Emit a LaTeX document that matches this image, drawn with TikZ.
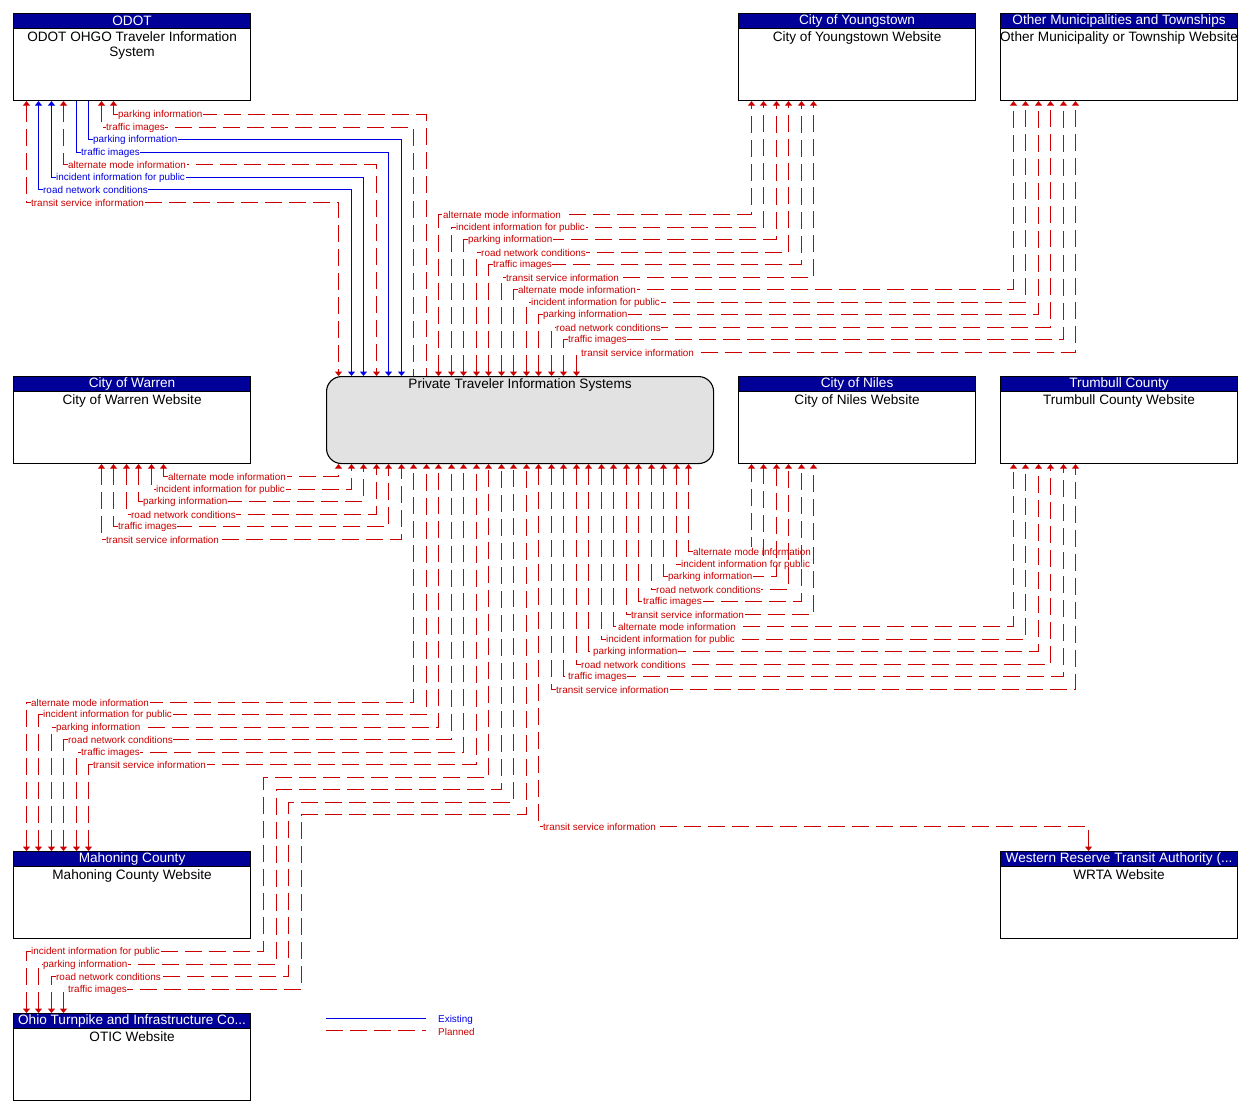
\documentclass[tikz,border=0pt]{standalone}
\usepackage{fontspec}
\setmainfont{Liberation Sans}
\usetikzlibrary{arrows.meta}
\definecolor{hdrblue}{RGB}{0,0,153}
\definecolor{flowred}{RGB}{204,0,0}
\definecolor{flowblue}{RGB}{0,0,230}
\definecolor{ptsgray}{RGB}{226,226,226}
\tikzset{
  sysbox/.style={draw, line width=1.1pt, anchor=north west, minimum width=237pt, minimum height=87pt, inner sep=0pt},
  sysbar/.style={draw, line width=1.1pt, fill=hdrblue, text=white, anchor=north west, minimum width=237pt, minimum height=15pt, inner sep=0pt, font=\fontsize{13.6}{15}\selectfont},
  systxt/.style={anchor=north, align=center, inner sep=2.5pt, font=\fontsize{13.6}{15}\selectfont},
  planned/.style={draw=flowred, line width=1.2pt, dash pattern=on 17pt off 7pt},
  existing/.style={draw=flowblue, line width=1.2pt},
  flowlbl/.style={anchor=west, fill=white, inner sep=0.6pt, xshift=3.5pt, font=\fontsize{9.9}{10}\selectfont},
  plbl/.style={flowlbl, text=flowred},
  elbl/.style={flowlbl, text=flowblue},
  >={Triangle[width=7pt,length=4.5pt]}
}
\begin{document}
\begin{tikzpicture}[x=1pt,y=1pt,yscale=-1]
\useasboundingbox (0,0) rectangle (1249,1114);

%Shape: Private Traveler Information Systems
\node[draw, line width=1.1pt, fill=ptsgray, rounded corners=15pt, anchor=north west, minimum width=387pt, minimum height=87pt, inner sep=0pt] (pts) at (326,376) {};
\node[systxt] (ptstxt) at (pts.north) {Private Traveler Information Systems};

%Shape: System boxes
\node[sysbox] (odot) at (13,13) {};
\node[sysbar] (odothd) at (odot.north west) {ODOT};
\node[systxt] (odottxt) at (odothd.south) {ODOT OHGO Traveler Information\\System};

\node[sysbox] (ystown) at (738,13) {};
\node[sysbar] (ystownhd) at (ystown.north west) {City of Youngstown};
\node[systxt] (ystowntxt) at (ystownhd.south) {City of Youngstown Website};

\node[sysbox] (othmun) at (1000,13) {};
\node[sysbar] (othmunhd) at (othmun.north west) {Other Municipalities and Townships};
\node[systxt] (othmuntxt) at (othmunhd.south) {Other Municipality or Township Website};

\node[sysbox] (warren) at (13,376) {};
\node[sysbar] (warrenhd) at (warren.north west) {City of Warren};
\node[systxt] (warrentxt) at (warrenhd.south) {City of Warren Website};

\node[sysbox] (niles) at (738,376) {};
\node[sysbar] (nileshd) at (niles.north west) {City of Niles};
\node[systxt] (nilestxt) at (nileshd.south) {City of Niles Website};

\node[sysbox] (trumb) at (1000,376) {};
\node[sysbar] (trumbhd) at (trumb.north west) {Trumbull County};
\node[systxt] (trumbtxt) at (trumbhd.south) {Trumbull County Website};

\node[sysbox] (mahon) at (13,851) {};
\node[sysbar] (mahonhd) at (mahon.north west) {Mahoning County};
\node[systxt] (mahontxt) at (mahonhd.south) {Mahoning County Website};

\node[sysbox] (wrta) at (1000,851) {};
\node[sysbar] (wrtahd) at (wrta.north west) {Western Reserve Transit Authority (...};
\node[systxt] (wrtatxt) at (wrtahd.south) {WRTA Website};

\node[sysbox] (otic) at (13,1013) {};
\node[sysbar] (otichd) at (otic.north west) {Ohio Turnpike and Infrastructure Co...};
\node[systxt] (otictxt) at (otichd.south) {OTIC Website};

%Flows: ODOT
\draw[planned,<-] (odot.south -| 113.5,0) |- node[plbl]{parking information} (426.5,114.5) -- (pts.north -| 426.5,0);
\draw[planned,<-] (odot.south -| 101.5,0) |- node[plbl]{traffic images} (413.5,127.5) -- (pts.north -| 413.5,0);
\draw[existing,->] (odot.south -| 88.5,0) |- node[elbl]{parking information} (401.5,139.5) -- (pts.north -| 401.5,0);
\draw[existing,->] (odot.south -| 76.5,0) |- node[elbl]{traffic images} (388.5,152.5) -- (pts.north -| 388.5,0);
\draw[planned,<->] (odot.south -| 63.5,0) |- node[plbl]{alternate mode information} (376.5,164.5) -- (pts.north -| 376.5,0);
\draw[existing,<->] (odot.south -| 51.5,0) |- node[elbl]{incident information for public} (363.5,177.5) -- (pts.north -| 363.5,0);
\draw[existing,<->] (odot.south -| 38.5,0) |- node[elbl]{road network conditions} (351.5,189.5) -- (pts.north -| 351.5,0);
\draw[planned,<->] (odot.south -| 26.5,0) |- node[plbl]{transit service information} (338.5,202.5) -- (pts.north -| 338.5,0);

%Flows: City of Youngstown
\draw[planned,<->] (pts.north -| 438.5,0) |- node[plbl]{alternate mode information} (751.5,214.5) -- (ystown.south -| 751.5,0);
\draw[planned,<->] (pts.north -| 451.5,0) |- node[plbl]{incident information for public} (763.5,227.5) -- (ystown.south -| 763.5,0);
\draw[planned,<->] (pts.north -| 463.5,0) |- node[plbl]{parking information} (776.5,239.5) -- (ystown.south -| 776.5,0);
\draw[planned,<->] (pts.north -| 476.5,0) |- node[plbl]{road network conditions} (788.5,252.5) -- (ystown.south -| 788.5,0);
\draw[planned,<->] (pts.north -| 488.5,0) |- node[plbl]{traffic images} (801.5,264.5) -- (ystown.south -| 801.5,0);
\draw[planned,<->] (pts.north -| 501.5,0) |- node[plbl]{transit service information} (813.5,277.5) -- (ystown.south -| 813.5,0);

%Flows: Other Municipalities and Townships
\draw[planned,<->] (pts.north -| 513.5,0) |- node[plbl]{alternate mode information} (1013.5,289.5) -- (othmun.south -| 1013.5,0);
\draw[planned,<->] (pts.north -| 526.5,0) |- node[plbl]{incident information for public} (1025.5,302.5) -- (othmun.south -| 1025.5,0);
\draw[planned,<->] (pts.north -| 538.5,0) |- node[plbl]{parking information} (1038.5,314.5) -- (othmun.south -| 1038.5,0);
\draw[planned,<->] (pts.north -| 551.5,0) |- node[plbl]{road network conditions} (1050.5,327.5) -- (othmun.south -| 1050.5,0);
\draw[planned,<->] (pts.north -| 563.5,0) |- node[plbl]{traffic images} (1063.5,339.5) -- (othmun.south -| 1063.5,0);
\draw[planned,<->] (pts.north -| 576.5,0) |- node[plbl]{transit service information} (1075.5,352.5) -- (othmun.south -| 1075.5,0);

%Flows: City of Warren
\draw[planned,<->] (warren.south -| 163.5,0) |- node[plbl]{alternate mode information} (338.5,476.5) -- (pts.south -| 338.5,0);
\draw[planned,<->] (warren.south -| 151.5,0) |- node[plbl]{incident information for public} (351.5,489.5) -- (pts.south -| 351.5,0);
\draw[planned,<->] (warren.south -| 138.5,0) |- node[plbl]{parking information} (363.5,501.5) -- (pts.south -| 363.5,0);
\draw[planned,<->] (warren.south -| 126.5,0) |- node[plbl]{road network conditions} (376.5,514.5) -- (pts.south -| 376.5,0);
\draw[planned,<->] (warren.south -| 113.5,0) |- node[plbl]{traffic images} (388.5,526.5) -- (pts.south -| 388.5,0);
\draw[planned,<->] (warren.south -| 101.5,0) |- node[plbl]{transit service information} (401.5,539.5) -- (pts.south -| 401.5,0);

%Flows: City of Niles
\draw[planned,<->] (pts.south -| 688.5,0) |- node[plbl]{alternate mode information} (751.5,551.5) -- (niles.south -| 751.5,0);
\draw[planned,<->] (pts.south -| 676.5,0) |- node[plbl]{incident information for public} (763.5,564.5) -- (niles.south -| 763.5,0);
\draw[planned,<->] (pts.south -| 663.5,0) |- node[plbl]{parking information} (776.5,576.5) -- (niles.south -| 776.5,0);
\draw[planned,<->] (pts.south -| 651.5,0) |- node[plbl]{road network conditions} (788.5,589.5) -- (niles.south -| 788.5,0);
\draw[planned,<->] (pts.south -| 638.5,0) |- node[plbl]{traffic images} (801.5,601.5) -- (niles.south -| 801.5,0);
\draw[planned,<->] (pts.south -| 626.5,0) |- node[plbl]{transit service information} (813.5,614.5) -- (niles.south -| 813.5,0);

%Flows: Trumbull County
\draw[planned,<->] (pts.south -| 613.5,0) |- node[plbl]{alternate mode information} (1013.5,626.5) -- (trumb.south -| 1013.5,0);
\draw[planned,<->] (pts.south -| 601.5,0) |- node[plbl]{incident information for public} (1025.5,639.5) -- (trumb.south -| 1025.5,0);
\draw[planned,<->] (pts.south -| 588.5,0) |- node[plbl]{parking information} (1038.5,651.5) -- (trumb.south -| 1038.5,0);
\draw[planned,<->] (pts.south -| 576.5,0) |- node[plbl]{road network conditions} (1050.5,664.5) -- (trumb.south -| 1050.5,0);
\draw[planned,<->] (pts.south -| 563.5,0) |- node[plbl]{traffic images} (1063.5,676.5) -- (trumb.south -| 1063.5,0);
\draw[planned,<->] (pts.south -| 551.5,0) |- node[plbl]{transit service information} (1075.5,689.5) -- (trumb.south -| 1075.5,0);

%Flows: Mahoning County
\draw[planned,<->] (mahon.north -| 26.5,0) |- node[plbl]{alternate mode information} (413.5,702.5) -- (pts.south -| 413.5,0);
\draw[planned,<->] (mahon.north -| 38.5,0) |- node[plbl]{incident information for public} (426.5,714.5) -- (pts.south -| 426.5,0);
\draw[planned,<->] (mahon.north -| 51.5,0) |- node[plbl]{parking information} (438.5,727.5) -- (pts.south -| 438.5,0);
\draw[planned,<->] (mahon.north -| 63.5,0) |- node[plbl]{road network conditions} (451.5,739.5) -- (pts.south -| 451.5,0);
\draw[planned,<->] (mahon.north -| 76.5,0) |- node[plbl]{traffic images} (463.5,752.5) -- (pts.south -| 463.5,0);
\draw[planned,<->] (mahon.north -| 88.5,0) |- node[plbl]{transit service information} (476.5,764.5) -- (pts.south -| 476.5,0);

%Flows: OTIC
\draw[planned,<->] (otic.north -| 26.5,0) |- node[plbl]{incident information for public} (263.5,951.5) |- (488.5,777.5) -- (pts.south -| 488.5,0);
\draw[planned,<->] (otic.north -| 38.5,0) |- node[plbl]{parking information} (276.5,964.5) |- (501.5,789.5) -- (pts.south -| 501.5,0);
\draw[planned,<->] (otic.north -| 51.5,0) |- node[plbl]{road network conditions} (288.5,976.5) |- (513.5,802.5) -- (pts.south -| 513.5,0);
\draw[planned,<->] (otic.north -| 63.5,0) |- node[plbl]{traffic images} (301.5,989.5) |- (526.5,814.5) -- (pts.south -| 526.5,0);

%Flows: WRTA
\draw[planned,<->] (pts.south -| 538.5,0) |- node[plbl]{transit service information} (1088.5,826.5) -- (wrta.north -| 1088.5,0);

%Legend
\coordinate (lgex) at (326,1018.5);
\coordinate (lgpl) at (326,1030.5);
\draw[existing] (lgex) -- ++(100,0);
\draw[planned] (lgpl) -- ++(100,0);
\node[anchor=west, inner sep=0pt, text=flowblue, font=\fontsize{9.9}{10}\selectfont] (legex) at (438,1019.5) {Existing};
\node[anchor=west, inner sep=0pt, text=flowred, font=\fontsize{9.9}{10}\selectfont] (legpl) at (438,1031.5) {Planned};
\end{tikzpicture}
\end{document}
